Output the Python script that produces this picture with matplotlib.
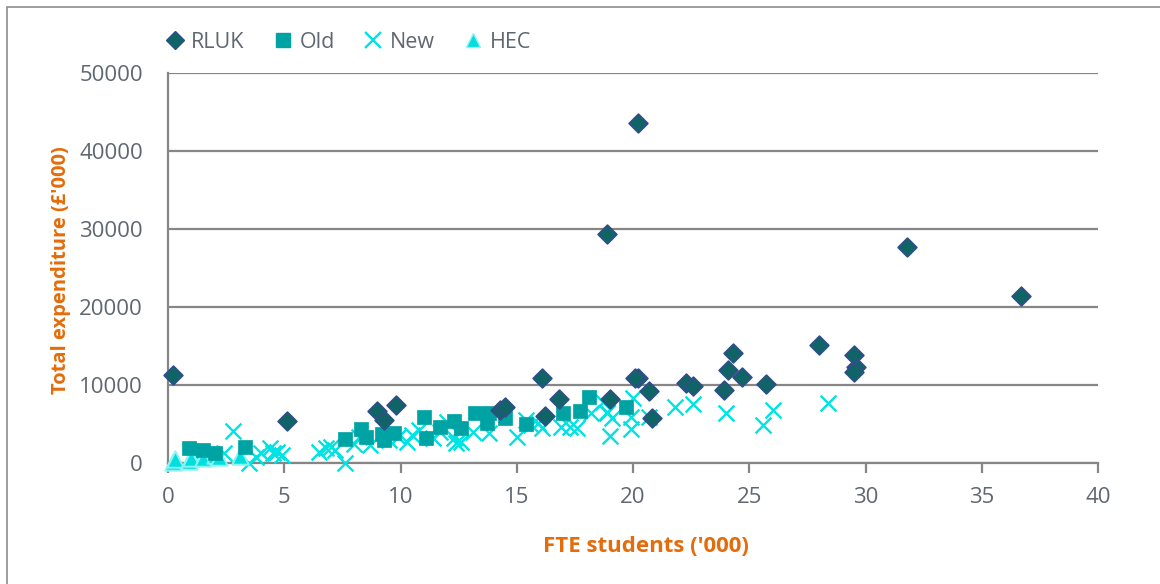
import matplotlib
matplotlib.use("Agg")
import matplotlib.pyplot as plt
from matplotlib.patches import Rectangle
from matplotlib.lines import Line2D

# ---- data (FTE students '000, total expenditure £'000) ----
rluk_x = [0.2, 5.1, 9.0, 9.3, 9.8, 14.3, 14.5, 16.1, 16.2, 16.8, 19.0, 20.2, 20.1,
          20.7, 20.8, 22.3, 22.6, 23.9, 24.1, 24.3, 24.7, 25.7, 28.0, 29.5, 29.6,
          29.5, 18.9, 20.2, 31.8, 36.7]
rluk_y = [11300, 5400, 6700, 5500, 7400, 6800, 7200, 10900, 6000, 8200, 8200, 10900, 10900,
          9200, 5800, 10300, 9900, 9400, 11900, 14100, 11000, 10100, 15100, 13800, 12300,
          11700, 29400, 43600, 27700, 21400]

old_x = [0.9, 1.5, 2.0, 3.3, 7.6, 8.3, 8.5, 9.2, 9.7, 9.3, 11.0, 11.1, 11.7, 12.3,
         12.6, 13.2, 13.8, 13.7, 14.5, 15.4, 17.0, 17.7, 18.1, 19.7]
old_y = [1900, 1700, 1300, 2100, 3100, 4400, 3300, 3700, 3800, 3000, 5900, 3200, 4600, 5400,
         4500, 6400, 6400, 5100, 5800, 5000, 6400, 6700, 8500, 7200]

new_x = [2.4, 2.8, 3.5, 3.8, 4.0, 4.4, 4.5, 4.7, 4.9, 6.5, 6.8, 7.0, 7.2, 7.6, 8.0,
         8.2, 8.7, 9.5, 9.9, 10.3, 10.5, 10.8, 11.4, 11.7, 12.0, 12.3, 12.4, 12.6, 13.1,
         13.8, 15.0, 15.4, 15.6, 15.9, 16.1, 16.9, 17.3, 17.6, 18.2, 18.9, 18.7, 18.9,
         19.1, 19.0, 19.9, 19.9, 20.0, 20.7, 21.8, 22.6, 24.0, 25.6, 26.0, 28.4, 1.2, 1.8]
new_y = [1300, 4100, 0, 800, 1300, 1900, 1300, 1400, 1000, 1400, 1900, 2100, 1700, 0, 2500,
         3300, 2300, 2900, 3300, 2700, 3600, 4200, 3200, 4000, 5200, 3200, 2600, 2700, 4000,
         3800, 3300, 5500, 4900, 5100, 4500, 4600, 4600, 4500, 6400, 6500, 7800, 6400,
         5800, 3500, 5900, 4400, 8300, 5900, 7200, 7600, 6400, 4900, 6800, 7700, 900, 1100]

hec_x = [0.2, 0.3, 0.9, 1.0, 1.5, 2.0, 2.2, 3.1]
hec_y = [100, 500, 300, 600, 700, 1000, 800, 900]

x_ticks = [0, 5, 10, 15, 20, 25, 30, 35, 40]
y_ticks = [0, 10000, 20000, 30000, 40000, 50000]

plt.rcParams['font.family'] = ['Open Sans', 'DejaVu Sans']

W, H = 1160, 584
fig = plt.figure(figsize=(W / 100, H / 100), dpi=100)
fig.patch.set_facecolor('white')
# outer frame (cut off at right/bottom in the reference)
fig.patches.append(Rectangle((7 / W, -0.05), 1.2, 1 - 7 / H + 0.05, transform=fig.transFigure,
                             fill=False, edgecolor='#8c8c8c', linewidth=1.2))

ax = fig.add_axes([168 / W, 1 - 463 / H, (1098 - 168) / W, (463 - 73) / H])
ax.set_xlim(0, 40)
ax.set_ylim(0, 50000)
ax.set_xticks(x_ticks)
ax.set_yticks(y_ticks)
ax.set_xticklabels([str(v) for v in x_ticks])
ax.set_yticklabels([str(v) for v in y_ticks])

grid_c = '#868686'
ax.yaxis.grid(True, color=grid_c, linewidth=1.6)
ax.set_axisbelow(True)
for s in ['top', 'right']:
    ax.spines[s].set_visible(False)
ax.spines['left'].set_color(grid_c)
ax.spines['bottom'].set_color(grid_c)
ax.spines['left'].set_linewidth(1.6)
ax.spines['bottom'].set_linewidth(1.6)
ax.tick_params(axis='x', direction='out', length=7, width=1.6, color=grid_c,
               labelsize=16, labelcolor='#5f6770', pad=10)
ax.tick_params(axis='y', length=0, labelsize=16, labelcolor='#5f6770', pad=18)

c_rluk = '#0f6466'
e_rluk = '#2f4f86'
c_old = '#00a3a3'
c_new = '#00e3e3'
c_hec = '#00dede'
e_hec = '#8cf3f3'

ax.scatter(new_x, new_y, marker='x', s=130, color=c_new, linewidths=1.7, zorder=3, clip_on=False)
ax.scatter(hec_x, hec_y, marker='^', s=140, color=c_hec, edgecolors=e_hec, linewidths=1.4,
           zorder=4, clip_on=False)
ax.scatter(old_x, old_y, marker='s', s=115, color=c_old, edgecolors=c_old, linewidths=0.5,
           zorder=4, clip_on=False)
ax.scatter(rluk_x, rluk_y, marker='D', s=90, color=c_rluk, edgecolors=e_rluk, linewidths=1.3,
           zorder=5, clip_on=False)

fig.text(646 / W, 1 - 546 / H, "FTE students ('000)", fontsize=16, fontweight='bold',
         color='#e46c0a', ha='center', va='center')
fig.text(61 / W, 1 - 270 / H, "Total expenditure (£'000)", fontsize=14.5, fontweight='bold',
         color='#e46c0a', ha='center', va='center', rotation=90)

handles = [
    Line2D([], [], linestyle='none', marker='D', markersize=9, markerfacecolor=c_rluk,
           markeredgecolor=e_rluk, markeredgewidth=1.0, label='RLUK'),
    Line2D([], [], linestyle='none', marker='s', markersize=10, markerfacecolor=c_old,
           markeredgecolor=c_old, label='Old'),
    Line2D([], [], linestyle='none', marker='x', markersize=11, markeredgecolor=c_new,
           markeredgewidth=1.7, label='New'),
    Line2D([], [], linestyle='none', marker='^', markersize=10, markerfacecolor=c_hec,
           markeredgecolor=e_hec, label='HEC'),
]
leg = fig.legend(handles=handles, loc='center left', bbox_to_anchor=(164 / W, 1 - 42 / H),
                 ncol=4, frameon=False, fontsize=15.5, handletextpad=0.25, columnspacing=1.3,
                 handlelength=1.0, borderaxespad=0, borderpad=0)
for t in leg.get_texts():
    t.set_color('#5f6770')

fig.savefig('out.png', dpi=100, facecolor='white')
